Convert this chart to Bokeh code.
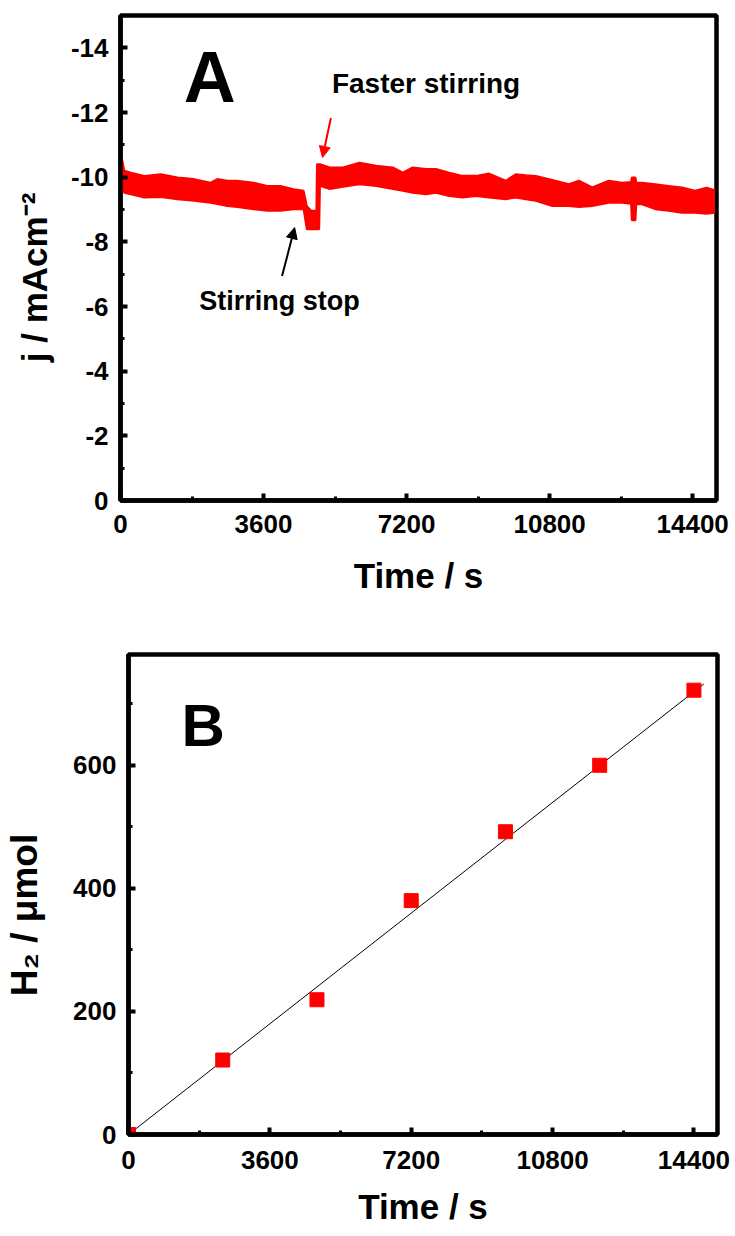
from bokeh.plotting import figure
from bokeh.models import Range1d, FixedTicker, Label, Arrow, NormalHead
from bokeh.embed import file_html
from bokeh.resources import INLINE

FONT = "Liberation Sans"

# ---------------- Panel A data ----------------
trace_t = [0, 40, 95, 263, 597, 1015, 1434, 1850, 2269, 2437, 2688, 2938, 3354,
           3690, 4023, 4357, 4608, 4690, 4800, 4930, 4945, 5000, 5020, 5265,
           5600, 6017, 6436, 6853, 7104, 7354, 7688, 7940, 8274, 8608, 8944,
           9277, 9696, 9946, 10200, 10451, 10869, 11286, 11537, 11871, 12290,
           12624, 12850, 12870, 12960, 12980, 13124, 13459, 13793, 14127,
           14462, 14750, 14960]
trace_upper = [-10.82, -10.55, -10.20, -10.14, -10.04, -10.09, -9.99, -9.94,
               -9.83, -9.94, -9.89, -9.89, -9.83, -9.73, -9.73, -9.63, -9.58,
               -9.10, -8.96, -8.96, -10.40, -10.40, -10.40, -10.30, -10.30,
               -10.45, -10.35, -10.30, -10.14, -10.30, -10.25, -10.25, -10.14,
               -10.04, -10.04, -10.11, -9.89, -10.09, -10.06, -10.04, -9.91,
               -9.78, -9.89, -9.68, -9.89, -9.83, -9.85, -9.99, -9.99, -9.83,
               -9.83, -9.78, -9.73, -9.68, -9.58, -9.67, -9.60]
trace_lower = [-9.73, -9.60, -9.52, -9.47, -9.37, -9.39, -9.32, -9.27, -9.21,
               -9.17, -9.11, -9.08, -9.01, -8.96, -8.96, -9.01, -9.01, -8.39,
               -8.39, -8.39, -8.39, -8.39, -9.73, -9.63, -9.70, -9.78, -9.73,
               -9.63, -9.58, -9.52, -9.47, -9.52, -9.42, -9.37, -9.42, -9.37,
               -9.32, -9.37, -9.32, -9.27, -9.11, -9.11, -9.08, -9.11, -9.21,
               -9.21, -9.18, -8.67, -8.67, -9.16, -9.16, -9.01, -8.96, -8.90,
               -8.90, -8.87, -8.90]

x_ticks = [0, 3600, 7200, 10800, 14400]
x_minor = [1800, 5400, 9000, 12600]
a_yticks = [0, -2, -4, -6, -8, -10, -12, -14]
a_yminor = [-1, -3, -5, -7, -9, -11, -13]
a_ylabels = ["0", "-2", "-4", "-6", "-8", "-10", "-12", "-14"]

# ---------------- Panel B data ----------------
h2_time = [0, 2400, 4800, 7200, 9600, 12000, 14400]
h2_umol = [0, 121, 219, 380, 492, 600, 722]
fit_time = [0, 14650]
fit_umol = [0, 732]
b_yticks = [0, 200, 400, 600]
b_yminor = [100, 300, 500, 700]

NB = "\u00a0"


def style(p, xt, xm, yt, ym, ylabel, ylabel_size, ylabels=None):
    p.outline_line_color = "black"
    p.outline_line_width = 4.5
    p.outline_line_alpha = 1.0
    p.xgrid.visible = False
    p.ygrid.visible = False
    p.background_fill_color = "white"
    p.border_fill_color = "white"
    for ax in (p.xaxis[0], p.yaxis[0]):
        ax.axis_line_width = 4.5
        ax.axis_line_color = "black"
        ax.major_tick_in = 7
        ax.major_tick_out = 0
        ax.minor_tick_in = 4
        ax.minor_tick_out = 0
        ax.major_tick_line_width = 4
        ax.minor_tick_line_width = 3
        ax.major_label_text_font = FONT
        ax.major_label_text_font_style = "bold"
        ax.major_label_text_font_size = "26px"
        ax.major_label_text_color = "black"
        ax.axis_label_text_font = FONT
        ax.axis_label_text_font_style = "bold"
        ax.axis_label_text_color = "black"
    p.xaxis[0].ticker = FixedTicker(ticks=xt, minor_ticks=xm)
    p.yaxis[0].ticker = FixedTicker(ticks=yt, minor_ticks=ym)
    if ylabels is not None:
        p.yaxis[0].major_label_overrides = {v: s for v, s in zip(yt, ylabels)}
    p.xaxis[0].axis_label = "Time / s"
    p.xaxis[0].axis_label_text_font_size = "35px"
    p.yaxis[0].axis_label = ylabel + NB * 4
    p.yaxis[0].axis_label_text_font_size = ylabel_size


# ---------------- Panel A ----------------
pA = figure(width=735, height=608, output_backend="svg", toolbar_location=None,
            x_range=Range1d(0, 15000), y_range=Range1d(0, -15),
            min_border_left=120, min_border_right=19, min_border_top=15,
            min_border_bottom=108)
style(pA, x_ticks, x_minor, a_yticks, a_yminor,
      "j / mAcm\u207b\u00b2", "35px", a_ylabels)
pA.xaxis[0].major_label_standoff = 14
pA.xaxis[0].axis_label_standoff = 20
pA.yaxis[0].major_label_standoff = 12
pA.yaxis[0].axis_label_standoff = 14

pA.varea(x=trace_t, y1=trace_lower, y2=trace_upper, fill_color="#ff0000")
pA.line(x=trace_t, y=trace_upper, line_color="#ff0000", line_width=2)
pA.line(x=trace_t, y=trace_lower, line_color="#ff0000", line_width=2)

pA.add_layout(Label(x=1590, y=-13.11, text="A", text_font=FONT,
                    text_font_style="bold", text_font_size="72px",
                    text_baseline="alphabetic", text_color="black"))
pA.add_layout(Label(x=5320, y=-12.90, text="Faster stirring", text_font=FONT,
                    text_font_style="bold", text_font_size="28px",
                    text_baseline="alphabetic", text_color="black"))
pA.add_layout(Label(x=1980, y=-6.16, text="Stirring stop", text_font=FONT,
                    text_font_style="bold", text_font_size="27px",
                    text_baseline="alphabetic", text_color="black"))
pA.add_layout(Arrow(x_start=4066, y_start=-6.94, x_end=4382, y_end=-8.44,
                    line_color="black", line_width=2,
                    end=NormalHead(size=11, fill_color="black", line_color="black")))
pA.add_layout(Arrow(x_start=5295, y_start=-11.83, x_end=5084, y_end=-10.61,
                    line_color="#ff0000", line_width=2,
                    end=NormalHead(size=11, fill_color="#ff0000", line_color="#ff0000")))

# ---------------- Panel B ----------------
pB = figure(width=735, height=628, output_backend="svg", toolbar_location=None,
            x_range=Range1d(0, 15000), y_range=Range1d(0, 780),
            min_border_left=128, min_border_right=18, min_border_top=46,
            min_border_bottom=102)
style(pB, x_ticks, x_minor, b_yticks, b_yminor,
      "H\u2082 / \u03bcmol", "37px")
pB.xaxis[0].major_label_standoff = 16
pB.xaxis[0].axis_label_standoff = 15
pB.yaxis[0].major_label_standoff = 12
pB.yaxis[0].axis_label_standoff = 25

pB.line(x=fit_time, y=fit_umol, line_color="black", line_width=1)
pB.scatter(x=h2_time, y=h2_umol, marker="square", size=14,
           fill_color="#ff0000", line_color="#ff0000")

pB.add_layout(Label(x=1347, y=665, text="B", text_font=FONT,
                    text_font_style="bold", text_font_size="60px",
                    text_baseline="alphabetic", text_color="black"))

with open("out.html", "w") as f:
    f.write(file_html([pA, pB], INLINE))
